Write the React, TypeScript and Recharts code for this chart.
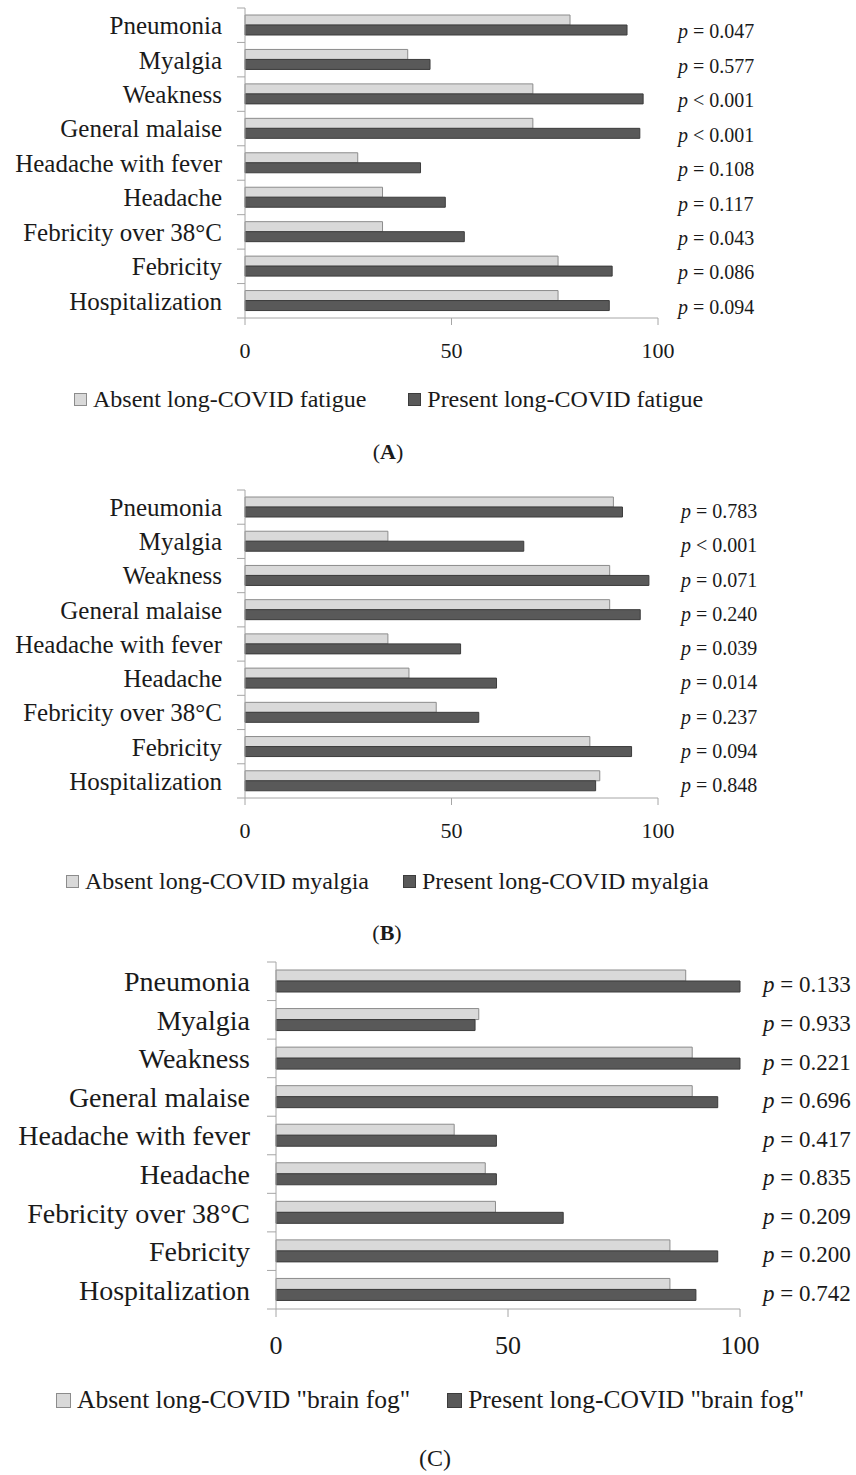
import { BarChart, Bar, XAxis, YAxis, Legend } from "recharts";

const categories = [
  "Pneumonia",
  "Myalgia",
  "Weakness",
  "General malaise",
  "Headache with fever",
  "Headache",
  "Febricity over 38°C",
  "Febricity",
  "Hospitalization",
];

const xTicks = [0, 50, 100];

// (A) long-COVID fatigue
const fatigueAbsent = [78.7, 39.4, 69.7, 69.7, 27.3, 33.3, 33.3, 75.8, 75.8];
const fatiguePresent = [92.5, 44.8, 96.4, 95.6, 42.5, 48.5, 53.1, 88.9, 88.2];
const fatigueP = ["= 0.047", "= 0.577", "< 0.001", "< 0.001", "= 0.108", "= 0.117", "= 0.043", "= 0.086", "= 0.094"];

// (B) long-COVID myalgia
const myalgiaAbsent = [89.2, 34.6, 88.3, 88.3, 34.6, 39.7, 46.3, 83.5, 85.9];
const myalgiaPresent = [91.4, 67.5, 97.8, 95.7, 52.2, 60.9, 56.6, 93.6, 84.9];
const myalgiaP = ["= 0.783", "< 0.001", "= 0.071", "= 0.240", "= 0.039", "= 0.014", "= 0.237", "= 0.094", "= 0.848"];

// (C) long-COVID "brain fog"
const fogAbsent = [88.3, 43.7, 89.7, 89.7, 38.4, 45.1, 47.3, 84.9, 84.9];
const fogPresent = [100, 42.9, 100, 95.2, 47.5, 47.5, 61.9, 95.2, 90.5];
const fogP = ["= 0.133", "= 0.933", "= 0.221", "= 0.696", "= 0.417", "= 0.835", "= 0.209", "= 0.200", "= 0.742"];

const FONT = "'Liberation Serif', 'Times New Roman', serif";
const TEXT = "#1a1a1a";
const AXIS = "#a6a6a6";
const LIGHT = "#d9d9d9";
const LIGHT_EDGE = "#8c8c8c";
const DARK = "#595959";
const DARK_EDGE = "#3c3c3c";

type Cfg = {
  base: number;
  height: number;
  plotTop: number;
  plotBottom: number;
  plotLeft: number;
  plotRight: number;
  barSize: number;
  labelFont: number;
  labelGap: number;
  yTick: number;
  xFont: number;
  xTick: number;
  xGap: number;
  pX: number;
  pFont: number;
  pDy: number;
  legendTop: number;
  legendLeft: number;
  legendFont: number;
  legendGap: number;
  swatch: number;
  captionX: number;
  captionY: number;
  captionFont: number;
  captionBold: boolean;
};

const cfgA: Cfg = {
  base: 0, height: 430, plotTop: 8, plotBottom: 318, plotLeft: 245, plotRight: 658,
  barSize: 10, labelFont: 25, labelGap: 15, yTick: 8, xFont: 22, xTick: 7, xGap: 17,
  pX: 678, pFont: 20, pDy: 6, legendTop: 387, legendLeft: 74, legendFont: 24, legendGap: 42,
  swatch: 13, captionX: 388, captionY: 452, captionFont: 22, captionBold: true,
};

const cfgB: Cfg = {
  base: 480, height: 430, plotTop: 10, plotBottom: 318, plotLeft: 245, plotRight: 658,
  barSize: 10, labelFont: 25, labelGap: 15, yTick: 8, xFont: 22, xTick: 7, xGap: 17,
  pX: 681, pFont: 20, pDy: 4, legendTop: 389, legendLeft: 66, legendFont: 24, legendGap: 34,
  swatch: 13, captionX: 387, captionY: 453, captionFont: 22, captionBold: true,
};

const cfgC: Cfg = {
  base: 955, height: 480, plotTop: 7, plotBottom: 354, plotLeft: 276, plotRight: 740,
  barSize: 11, labelFont: 28, labelGap: 17, yTick: 9, xFont: 26, xTick: 8, xGap: 19,
  pX: 763, pFont: 23, pDy: 3, legendTop: 432, legendLeft: 56, legendFont: 25.5, legendGap: 37,
  swatch: 15, captionX: 435, captionY: 503, captionFont: 24, captionBold: false,
};

function Panel({
  cfg,
  absent,
  present,
  pvals,
  absentName,
  presentName,
  letter,
}: {
  cfg: Cfg;
  absent: number[];
  present: number[];
  pvals: string[];
  absentName: string;
  presentName: string;
  letter: string;
}) {
  const data = categories.map((c, i) => ({ cat: c, absent: absent[i], present: present[i] }));
  const band = (cfg.plotBottom - cfg.plotTop) / categories.length;
  const xAxisH = 60;
  const bottom = cfg.height - cfg.plotBottom - xAxisH;

  const catTick = (p: any) => {
    const { x, y, payload, index } = p;
    const half = band / 2;
    return (
      <g>
        <text x={x} y={y} dy="0.355em" textAnchor="end" fontSize={cfg.labelFont} fontFamily={FONT} fill={TEXT}>
          {payload.value}
        </text>
        <line x1={cfg.plotLeft - cfg.yTick} x2={cfg.plotLeft} y1={y - half} y2={y - half} stroke={AXIS} />
        {index === categories.length - 1 && (
          <line x1={cfg.plotLeft - cfg.yTick} x2={cfg.plotLeft} y1={y + half} y2={y + half} stroke={AXIS} />
        )}
      </g>
    );
  };

  const pTick = (p: any) => {
    const { x, y, index } = p;
    return (
      <text x={x} y={y + cfg.pDy} dy="0.355em" textAnchor="start" fontSize={cfg.pFont} fontFamily={FONT} fill={TEXT}>
        <tspan fontStyle="italic">p</tspan>
        {" " + pvals[index]}
      </text>
    );
  };

  const swatch = (fill: string, edge: string) => (
    <span
      style={{
        display: "inline-block",
        width: cfg.swatch,
        height: cfg.swatch,
        background: fill,
        border: `1px solid ${edge}`,
        boxSizing: "border-box",
        marginRight: 6,
      }}
    />
  );

  const legendContent = () => (
    <div
      style={{
        display: "flex",
        alignItems: "center",
        paddingLeft: cfg.legendLeft,
        fontFamily: FONT,
        fontSize: cfg.legendFont,
        lineHeight: `${Math.round(cfg.legendFont)}px`,
        color: TEXT,
        whiteSpace: "nowrap",
      }}
    >
      {swatch(LIGHT, LIGHT_EDGE)}
      <span>{absentName}</span>
      <span style={{ width: cfg.legendGap, display: "inline-block" }} />
      {swatch(DARK, DARK_EDGE)}
      <span>{presentName}</span>
    </div>
  );

  return (
    <div style={{ position: "absolute", top: cfg.base, left: 0, width: 856, height: cfg.height + 60 }}>
      <BarChart
        width={856}
        height={cfg.height}
        data={data}
        layout="vertical"
        barGap={0}
        barSize={cfg.barSize}
        margin={{ top: cfg.plotTop, right: 0, left: 0, bottom }}
      >
        <XAxis
          type="number"
          domain={[0, 100]}
          ticks={xTicks}
          height={xAxisH}
          stroke={AXIS}
          tickSize={cfg.xTick}
          tickMargin={cfg.xGap}
          tick={{ fontSize: cfg.xFont, fontFamily: FONT, fill: TEXT }}
        />
        <YAxis
          yAxisId="left"
          type="category"
          dataKey="cat"
          width={cfg.plotLeft}
          interval={0}
          stroke={AXIS}
          tickLine={false}
          tickSize={cfg.yTick}
          tickMargin={cfg.labelGap}
          tick={catTick}
        />
        <YAxis
          yAxisId="right"
          orientation="right"
          type="category"
          dataKey="cat"
          width={856 - cfg.plotRight}
          interval={0}
          axisLine={false}
          tickLine={false}
          tickSize={0}
          tickMargin={cfg.pX - cfg.plotRight}
          tick={pTick}
        />
        <Bar yAxisId="left" dataKey="absent" name={absentName} fill={LIGHT} stroke={LIGHT_EDGE} isAnimationActive={false} />
        <Bar yAxisId="left" dataKey="present" name={presentName} fill={DARK} stroke={DARK_EDGE} isAnimationActive={false} />
        <Legend
          layout="horizontal"
          verticalAlign="middle"
          align="center"
          width={856}
          wrapperStyle={{ top: cfg.legendTop, left: 0 }}
          content={legendContent}
        />
      </BarChart>
      <div
        style={{
          position: "absolute",
          left: cfg.captionX - 40,
          width: 80,
          top: cfg.captionY - cfg.captionFont / 2 - 2,
          textAlign: "center",
          fontFamily: FONT,
          fontSize: cfg.captionFont,
          lineHeight: `${cfg.captionFont + 4}px`,
          color: TEXT,
        }}
      >
        ({cfg.captionBold ? <b>{letter}</b> : letter})
      </div>
    </div>
  );
}

export default function App() {
  return (
    <div style={{ position: "absolute", top: 0, left: 0, width: 856, height: 1475, background: "#fff" }}>
      <Panel
        cfg={cfgA}
        absent={fatigueAbsent}
        present={fatiguePresent}
        pvals={fatigueP}
        absentName="Absent long-COVID fatigue"
        presentName="Present long-COVID fatigue"
        letter="A"
      />
      <Panel
        cfg={cfgB}
        absent={myalgiaAbsent}
        present={myalgiaPresent}
        pvals={myalgiaP}
        absentName="Absent long-COVID myalgia"
        presentName="Present long-COVID myalgia"
        letter="B"
      />
      <Panel
        cfg={cfgC}
        absent={fogAbsent}
        present={fogPresent}
        pvals={fogP}
        absentName={'Absent long-COVID "brain fog"'}
        presentName={'Present long-COVID "brain fog"'}
        letter="C"
      />
    </div>
  );
}
